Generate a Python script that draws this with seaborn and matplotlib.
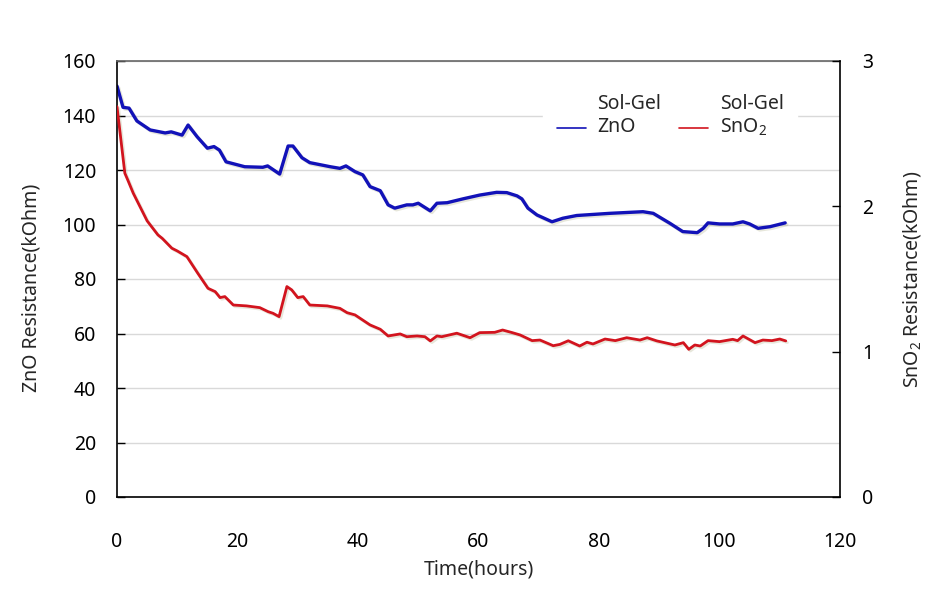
import matplotlib
matplotlib.use("Agg")
import matplotlib.pyplot as plt
import matplotlib.patheffects as pe
import seaborn as sns

# ---- data ----
zno_hours = [0, 1, 2, 3.3, 5.5, 8, 9, 10.8, 11.8, 13.3, 15, 16.1, 17, 18.1, 21.2, 24.2, 25, 27,
             28.4, 29.2, 30.7, 32, 35.4, 37, 38, 39.5, 40.8, 42, 43.7, 45, 46.1, 48.1, 49.1, 50,
             52, 53.1, 54.8, 57.4, 60.2, 63, 64.7, 66.4, 67.2, 68.2, 69.7, 72.2, 74, 76.3, 81.8,
             87.3, 89, 91.8, 93.9, 96.3, 97.3, 98.1, 100, 102.2, 103.9, 105, 106.4, 108.4, 110.9]
zno_kohm = [150.8, 143, 142.7, 138, 134.7, 133.6, 134, 132.8, 136.5, 132.2, 128, 128.6, 127.3, 123,
            121.2, 121, 121.5, 118.5, 128.8, 128.8, 124.5, 122.7, 121.2, 120.6, 121.5, 119.4, 118.2,
            113.9, 112.4, 107.2, 106, 107.2, 107.2, 107.8, 105, 107.8, 108, 109.4, 110.8, 111.8,
            111.7, 110.5, 109.4, 106, 103.5, 101, 102.3, 103.3, 104.1, 104.7, 104.1, 100.4, 97.4,
            97, 98.6, 100.6, 100.2, 100.2, 101, 100.2, 98.6, 99.2, 100.6]

sno2_hours = [0, 1.3, 1.8, 2.7, 5, 6.8, 7.5, 9.1, 10, 11.6, 13.4, 15.1, 16.3, 17.1, 17.9, 19.3, 21.5,
              23.7, 25.1, 25.9, 26.9, 28.2, 29, 30, 30.9, 32, 34.9, 37, 38.2, 39.5, 42, 43.7, 45,
              47, 48.1, 49.8, 51.1, 52, 53.1, 53.9, 56.4, 58.6, 60.2, 62.7, 64, 65.6, 66.9, 68.9,
              70.2, 72.4, 73.5, 74.9, 76.8, 78, 79, 81, 82.7, 84.6, 86.8, 88, 89.6, 92.6, 94, 94.9,
              95.9, 96.8, 98.1, 100, 102.2, 103, 103.9, 105.9, 107.2, 108.7, 110, 111]
sno2_kohm = [2.686, 2.228, 2.18, 2.09, 1.9, 1.803, 1.78, 1.712, 1.693, 1.654, 1.54, 1.436, 1.413,
             1.372, 1.379, 1.321, 1.315, 1.303, 1.275, 1.264, 1.241, 1.448, 1.425, 1.372, 1.379,
             1.321, 1.315, 1.298, 1.268, 1.253, 1.184, 1.154, 1.108, 1.122, 1.103, 1.108, 1.103,
             1.074, 1.108, 1.103, 1.127, 1.096, 1.131, 1.133, 1.149, 1.131, 1.115, 1.076, 1.08,
             1.041, 1.05, 1.075, 1.039, 1.065, 1.053, 1.087, 1.076, 1.096, 1.08, 1.096, 1.074,
             1.046, 1.062, 1.016, 1.046, 1.039, 1.076, 1.069, 1.085, 1.076, 1.108, 1.062, 1.08,
             1.076, 1.087, 1.074]

x_ticks = [0, 20, 40, 60, 80, 100, 120]
left_ticks = [0, 20, 40, 60, 80, 100, 120, 140, 160]
right_ticks = [0, 1, 2, 3]
zno_label = "Sol-Gel\nZnO"
sno2_label = "Sol-Gel\nSnO$_2$"

sns.set_style("white")
plt.rcParams["font.family"] = ["Noto Sans", "DejaVu Sans"]
plt.rcParams["mathtext.fontset"] = "custom"
plt.rcParams["mathtext.rm"] = "Noto Sans"

FS = 14
W, H = 935, 592
fig = plt.figure(figsize=(W / 100, H / 100), dpi=100)
L, R, T, B = 117, 840, 61, 497
ax = fig.add_axes([L / W, 1 - B / H, (R - L) / W, (B - T) / H])
ax2 = ax.twinx()

blue = "#1212b8"
red = "#d2141e"
shadow = [pe.SimpleLineShadow(offset=(1.2, -1.2), shadow_color="#a0a070", alpha=0.25), pe.Normal()]

sns.lineplot(x=zno_hours, y=zno_kohm, ax=ax, color=blue, linewidth=2.4, label=zno_label, legend=False)
ax.lines[-1].set_path_effects(shadow)
sns.lineplot(x=sno2_hours, y=sno2_kohm, ax=ax2, color=red, linewidth=2.0, label=sno2_label, legend=False)
ax2.lines[-1].set_path_effects(shadow)

ax.set_xlim(0, 120)
ax.set_ylim(0, 160)
ax2.set_ylim(0, 3)
ax.set_xticks(x_ticks)
ax.set_yticks(left_ticks)
ax2.set_yticks(right_ticks)

ax.grid(axis="y", color="#d9d9d9", linewidth=1.0)
ax.grid(axis="x", visible=False)
ax2.grid(False)
ax.set_axisbelow(True)

for a in (ax, ax2):
    for s in a.spines.values():
        s.set_visible(False)
ax.spines["left"].set_visible(True)
ax.spines["bottom"].set_visible(True)
ax.spines["top"].set_visible(True)
ax2.spines["right"].set_visible(True)
ax.spines["left"].set_color("black")
ax.spines["bottom"].set_color("black")
ax.spines["top"].set_color("#666666")
ax2.spines["right"].set_color("black")
for s in ("left", "bottom", "top"):
    ax.spines[s].set_linewidth(1.2)
ax2.spines["right"].set_linewidth(1.2)

ax.tick_params(axis="x", direction="in", length=5, width=1, pad=25, labelsize=FS, colors="black")
ax.tick_params(axis="y", direction="in", length=6, width=1, pad=15, labelsize=FS, colors="black")
ax2.tick_params(axis="y", direction="in", length=6, width=1, pad=16, labelsize=FS, colors="black")

ax.set_xlabel("Time(hours)", fontsize=FS)
ax.set_ylabel("ZnO Resistance(kOhm)", fontsize=FS)
ax2.set_ylabel("SnO$_2$ Resistance(kOhm)", fontsize=FS, rotation=90)
ax.xaxis.set_label_coords(0.5, -0.143)
ax.yaxis.set_label_coords(-0.105, 0.48)
ax2.yaxis.set_label_coords(1.085, 0.5)

handles = ax.lines[-1:] + ax2.lines[-1:]
leg = ax2.legend(handles, [zno_label, sno2_label], ncol=2, loc="upper left",
                 bbox_to_anchor=(543 / W, 1 - 80 / H), bbox_transform=fig.transFigure,
                 frameon=True, fancybox=False, fontsize=FS, handlelength=1.5,
                 handletextpad=0.6, columnspacing=0.9, borderpad=0.7, borderaxespad=0)
leg.get_frame().set_facecolor("white")
leg.get_frame().set_edgecolor("white")
leg.get_frame().set_alpha(1)
for h in leg.legend_handles:
    h.set_path_effects([])
    h.set_linewidth(1.2)
    yd = h.get_ydata()
    h.set_ydata([y - 0.6 * FS for y in yd])

fig.savefig("out.png", dpi=100)
